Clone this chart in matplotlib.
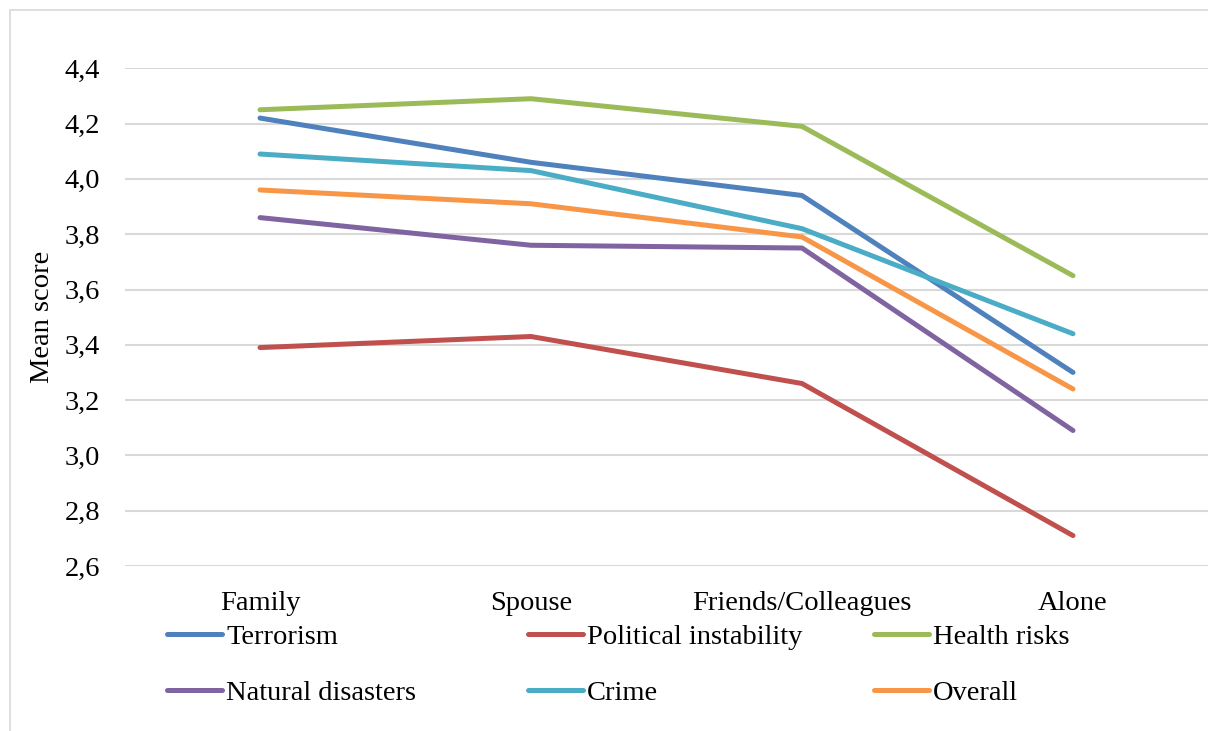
import matplotlib
matplotlib.use("Agg")
import matplotlib.pyplot as plt
from matplotlib.lines import Line2D
from matplotlib.patches import Rectangle

# Travel company categories and mean risk-perception scores
categories = ["Family", "Spouse", "Friends/Colleagues", "Alone"]
terrorism = [4.22, 4.06, 3.94, 3.30]
political_instability = [3.39, 3.43, 3.26, 2.71]
health_risks = [4.25, 4.29, 4.19, 3.65]
natural_disasters = [3.86, 3.76, 3.75, 3.09]
crime = [4.09, 4.03, 3.82, 3.44]
overall = [3.96, 3.91, 3.79, 3.24]

series_names = ["Terrorism", "Political instability", "Health risks",
                "Natural disasters", "Crime", "Overall"]
series_values = [terrorism, political_instability, health_risks,
                 natural_disasters, crime, overall]
series_colors = ["#4F81BD", "#C0504D", "#9BBB59", "#8064A2", "#4BACC6", "#F79646"]
y_ticks = [2.6, 2.8, 3.0, 3.2, 3.4, 3.6, 3.8, 4.0, 4.2, 4.4]

plt.rcParams["font.family"] = ["Liberation Serif", "DejaVu Serif"]
FS = 20.5

W, H = 1208, 731
fig = plt.figure(figsize=(W / 100, H / 100), dpi=100)

# light chart-area border
fig.add_artist(Rectangle((10 / W, -0.05), 1.2, 1 - 10 / H + 0.05,
                         transform=fig.transFigure, fill=False,
                         edgecolor="#D9D9D9", linewidth=1.2))

ax = fig.add_axes([124.5 / W, 1 - 566 / H, 1084 / W, (566 - 68.3) / H])
x = list(range(len(categories)))
for name, vals, col in zip(series_names, series_values, series_colors):
    ax.plot(x, vals, color=col, linewidth=3.6, solid_capstyle="round",
            solid_joinstyle="round", label=name, zorder=3)

ax.set_xlim(-0.5, len(categories) - 0.5)
ax.set_ylim(2.6, 4.4)
ax.set_yticks(y_ticks)
ax.set_yticklabels([f"{v:.1f}".replace(".", ",") for v in y_ticks])
ax.set_xticks(x)
ax.set_xticklabels(categories)
ax.tick_params(axis="both", length=0, labelsize=FS, colors="black")
ax.tick_params(axis="x", pad=18)
ax.tick_params(axis="y", pad=17.5)
ax.grid(axis="y", color="#D9D9D9", linewidth=1.5, zorder=0)
for s in ax.spines.values():
    s.set_visible(False)
ax.set_ylabel("Mean score", fontsize=FS, labelpad=7)

# legend laid out in three columns, two rows
col_x = [167, 528, 874]
row_y = [634, 690]
handle_len = 55
for i, (name, col) in enumerate(zip(series_names, series_colors)):
    r, c = divmod(i, 3)
    x0 = col_x[c]
    y0 = row_y[r]
    fig.add_artist(Line2D([x0 / W, (x0 + handle_len) / W], [1 - y0 / H, 1 - y0 / H],
                          transform=fig.transFigure, color=col, linewidth=3.6,
                          solid_capstyle="round"))
    fig.text((x0 + handle_len + 4) / W, 1 - (y0 + 10) / H, name, fontsize=FS,
             va="baseline", ha="left")

fig.savefig("out.png", dpi=100)
